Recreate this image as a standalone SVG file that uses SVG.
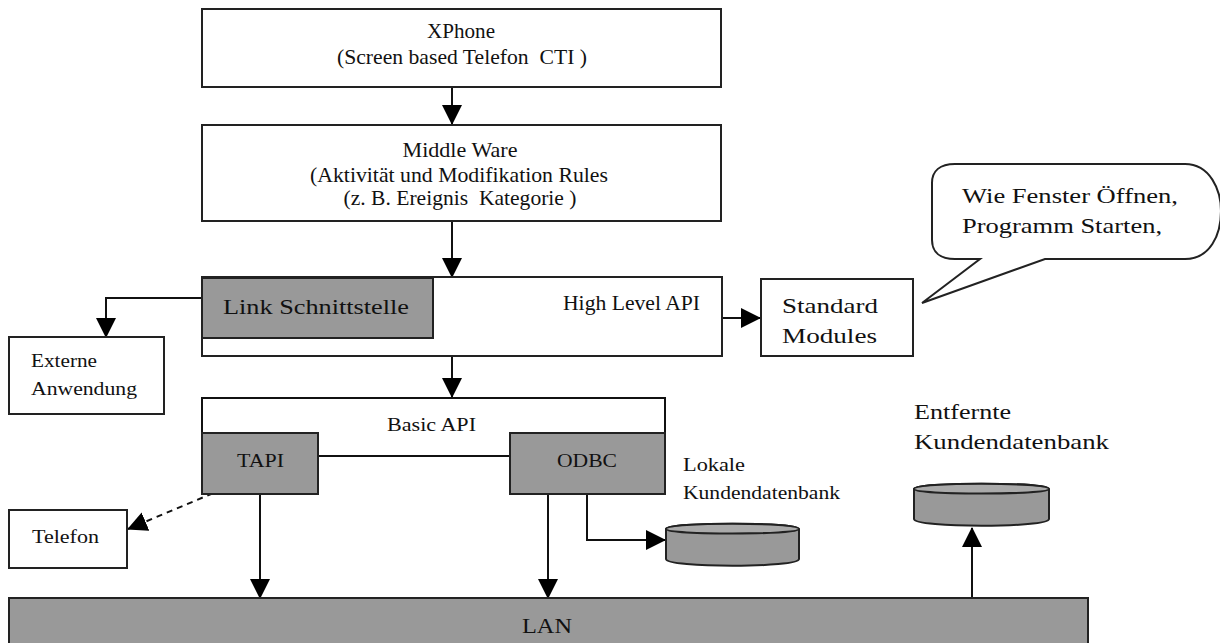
<svg xmlns="http://www.w3.org/2000/svg" width="1220" height="643" viewBox="0 0 1220 643">
  <style>
    .box { fill: #ffffff; stroke: #222222; stroke-width: 2; }
    .shade { fill: #999999; stroke: #222222; stroke-width: 2; }
    .line { fill: none; stroke: #111111; stroke-width: 2; }
    .dash { fill: none; stroke: #111111; stroke-width: 2; stroke-dasharray: 6 5; }
    .t { font-family: "Liberation Serif", "Times New Roman", serif; font-size: 19px; fill: #111111; }
    .tl { font-family: "Liberation Serif", "Times New Roman", serif; font-size: 21px; fill: #111111; }
    .c { text-anchor: middle; }
  </style>
  <defs>
    <marker id="arrow" markerUnits="userSpaceOnUse" markerWidth="20" markerHeight="20" refX="19" refY="10" orient="auto">
      <path d="M0,0 L20,10 L0,20 Z" fill="#000000"/>
    </marker>
  </defs>

  <rect width="1220" height="643" fill="#ffffff"/>

  <!-- connectors -->
  <g id="connectors">
    <line class="line" x1="452" y1="88" x2="452" y2="124" marker-end="url(#arrow)"/>
    <line class="line" x1="452" y1="221" x2="452" y2="277" marker-end="url(#arrow)"/>
    <line class="line" x1="452" y1="356" x2="452" y2="397" marker-end="url(#arrow)"/>
    <polyline class="line" points="202,298 106,298 106,337" marker-end="url(#arrow)"/>
    <line class="line" x1="722" y1="318" x2="760" y2="318" marker-end="url(#arrow)"/>
    <line class="line" x1="318" y1="456" x2="510" y2="456"/>
    <line class="dash" x1="223" y1="489" x2="128" y2="529" marker-end="url(#arrow)"/>
    <line class="line" x1="260" y1="494" x2="260" y2="598" marker-end="url(#arrow)"/>
    <line class="line" x1="548" y1="494" x2="548" y2="598" marker-end="url(#arrow)"/>
    <polyline class="line" points="587,494 587,540 665,540" marker-end="url(#arrow)"/>
    <line class="line" x1="972" y1="598" x2="972" y2="528" marker-end="url(#arrow)"/>
  </g>

  <!-- XPhone -->
  <g id="xphone">
    <rect class="box" x="202" y="9" width="519" height="78"/>
    <text class="tl c" x="461" y="38" textLength="68" lengthAdjust="spacingAndGlyphs">XPhone</text>
    <text class="tl c" x="462" y="64" textLength="250" lengthAdjust="spacingAndGlyphs" xml:space="preserve">(Screen based Telefon  CTI )</text>
  </g>

  <!-- Middle Ware -->
  <g id="middleware">
    <rect class="box" x="202" y="125" width="519" height="96"/>
    <text class="tl c" x="460" y="157" textLength="115" lengthAdjust="spacingAndGlyphs">Middle Ware</text>
    <text class="tl c" x="459" y="182" textLength="298" lengthAdjust="spacingAndGlyphs">(Aktivität und Modifikation Rules</text>
    <text class="tl c" x="460" y="205" textLength="233" lengthAdjust="spacingAndGlyphs" xml:space="preserve">(z. B. Ereignis  Kategorie )</text>
  </g>

  <!-- High Level API -->
  <g id="highlevel">
    <rect class="box" x="202" y="277" width="520" height="79"/>
    <text class="tl" x="563" y="310" textLength="137" lengthAdjust="spacingAndGlyphs">High Level API</text>
  </g>

  <!-- Link Schnittstelle -->
  <g id="link">
    <rect class="shade" x="202" y="278" width="231" height="60"/>
    <text class="tl" x="223" y="314" textLength="186" lengthAdjust="spacingAndGlyphs">Link Schnittstelle</text>
  </g>

  <!-- Standard Modules -->
  <g id="standard">
    <rect class="box" x="761" y="279" width="152" height="77"/>
    <text class="tl" x="782" y="313" textLength="96" lengthAdjust="spacingAndGlyphs">Standard</text>
    <text class="tl" x="782" y="343" textLength="95" lengthAdjust="spacingAndGlyphs">Modules</text>
  </g>

  <!-- callout -->
  <g id="callout">
    <path class="box" d="M955,164 L1185,164 C1210,164 1221,190 1221,211 C1221,235 1210,259 1185,259 L1045,259 L922,303 L980,259 L955,259 C940,259 932,252 932,240 L932,183 C932,171 940,164 955,164 Z"/>
    <text class="tl" x="962" y="203" textLength="216" lengthAdjust="spacingAndGlyphs">Wie Fenster Öffnen,</text>
    <text class="tl" x="962" y="233" textLength="200" lengthAdjust="spacingAndGlyphs">Programm Starten,</text>
  </g>

  <!-- Externe Anwendung -->
  <g id="externe">
    <rect class="box" x="9" y="337" width="155" height="77"/>
    <text class="t" x="31" y="367" textLength="66" lengthAdjust="spacingAndGlyphs">Externe</text>
    <text class="t" x="31" y="395" textLength="106" lengthAdjust="spacingAndGlyphs">Anwendung</text>
  </g>

  <!-- Basic API -->
  <g id="basicapi">
    <polyline class="line" points="202,434 202,398 665,398 665,434"/>
    <text class="t" x="387" y="431" textLength="89" lengthAdjust="spacingAndGlyphs">Basic API</text>
  </g>

  <!-- TAPI -->
  <g id="tapi">
    <rect class="shade" x="202" y="433" width="116" height="61"/>
    <text class="t" x="237" y="467" textLength="47" lengthAdjust="spacingAndGlyphs">TAPI</text>
  </g>

  <!-- ODBC -->
  <g id="odbc">
    <rect class="shade" x="510" y="433" width="155" height="61"/>
    <text class="t" x="557" y="467" textLength="60" lengthAdjust="spacingAndGlyphs">ODBC</text>
  </g>

  <!-- Telefon -->
  <g id="telefon">
    <rect class="box" x="9" y="510" width="118" height="58"/>
    <text class="t" x="32" y="543" textLength="67" lengthAdjust="spacingAndGlyphs">Telefon</text>
  </g>

  <!-- local customer database -->
  <g id="localdb">
    <path class="shade" d="M666,529 C666,522 799,522 799,529 L799,559 C799,568 666,568 666,559 Z"/>
    <path fill="#aaaaaa" stroke="#222222" stroke-width="2" d="M666,529 C666,522 799,522 799,529 C799,535 666,535 666,529 Z"/>
    <text class="t" x="683" y="471" textLength="62" lengthAdjust="spacingAndGlyphs">Lokale</text>
    <text class="t" x="683" y="499" textLength="157" lengthAdjust="spacingAndGlyphs">Kundendatenbank</text>
  </g>

  <!-- remote customer database -->
  <g id="remotedb">
    <path class="shade" d="M914,489 C914,482 1049,482 1049,489 L1049,519 C1049,528 914,528 914,519 Z"/>
    <path fill="#aaaaaa" stroke="#222222" stroke-width="2" d="M914,489 C914,482 1049,482 1049,489 C1049,495 914,495 914,489 Z"/>
    <text class="tl" x="914" y="419" textLength="97" lengthAdjust="spacingAndGlyphs">Entfernte</text>
    <text class="tl" x="914" y="449" textLength="195" lengthAdjust="spacingAndGlyphs">Kundendatenbank</text>
  </g>

  <!-- LAN -->
  <g id="lan">
    <rect class="shade" x="9" y="598" width="1079" height="60"/>
    <text class="tl" x="522" y="633" textLength="50" lengthAdjust="spacingAndGlyphs">LAN</text>
  </g>
</svg>
